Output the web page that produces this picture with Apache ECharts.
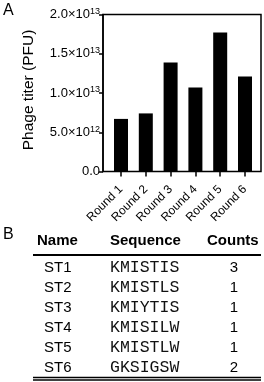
<!DOCTYPE html>
<html><head><meta charset="utf-8">
<script src="https://cdn.jsdelivr.net/npm/echarts@6/dist/echarts.min.js"></script>
<style>html,body{margin:0;padding:0;background:#fff}#c{width:264px;height:382px}</style>
</head><body><div id="c"></div>
<script>
// ---- data ----
const categories = ['Round 1', 'Round 2', 'Round 3', 'Round 4', 'Round 5', 'Round 6'];
const titers = [6.7e12, 7.4e12, 1.39e13, 1.07e13, 1.77e13, 1.21e13];
const yTicks = [0, 5e12, 1e13, 1.5e13, 2e13];
const yTickMantissa = ['0.0', '5.0×10', '1.0×10', '1.5×10', '2.0×10'];
const yTickExponent = ['', '12', '13', '13', '13'];
const yTitle = 'Phage titer (PFU)';
const tableHeaders = ['Name', 'Sequence', 'Counts'];
const names = ['ST1', 'ST2', 'ST3', 'ST4', 'ST5', 'ST6'];
const sequences = ['KMISTIS', 'KMISTLS', 'KMIYTIS', 'KMISILW', 'KMISTLW', 'GKSIGSW'];
const counts = [3, 1, 1, 1, 1, 2];

const SANS = 'Liberation Sans, Arial, sans-serif';
const MONO = 'Liberation Mono, Courier New, monospace';
const INK = '#000';

const chart = echarts.init(document.getElementById('c'), null, {renderer: 'canvas'});

const graphics = [];
graphics.push({type: 'text', x: 3, y: 3, style: {text: 'A', fontSize: 16, fontFamily: SANS, fill: INK}});
graphics.push({type: 'text', x: 3, y: 227, style: {text: 'B', fontSize: 16, fontFamily: SANS, fill: INK}});
graphics.push({type: 'text', x: 29, y: 90, rotation: Math.PI / 2,
  style: {text: yTitle, fontSize: 15.5, fontFamily: SANS, fill: INK, align: 'center', verticalAlign: 'middle'}});

// table header
const headX = [37, 110, 207];
tableHeaders.forEach((h, i) => {
  graphics.push({type: 'text', x: headX[i], y: 241,
    style: {text: h, fontSize: 15, fontWeight: 'bold', fontFamily: SANS, fill: INK, align: 'left', verticalAlign: 'middle'}});
});
graphics.push({type: 'line', shape: {x1: 33, y1: 255, x2: 261, y2: 255}, style: {stroke: INK, lineWidth: 2}});
names.forEach((n, i) => {
  const y = 268 + i * 20;
  graphics.push({type: 'text', x: 44, y: y,
    style: {text: n, fontSize: 15, fontFamily: SANS, fill: INK, align: 'left', verticalAlign: 'middle'}});
  graphics.push({type: 'text', x: 110, y: y,
    style: {text: sequences[i], fontSize: 16.5, fontFamily: MONO, fill: '#111', align: 'left', verticalAlign: 'middle'}});
  graphics.push({type: 'text', x: 234, y: y,
    style: {text: String(counts[i]), fontSize: 15, fontFamily: SANS, fill: INK, align: 'center', verticalAlign: 'middle'}});
});
graphics.push({type: 'line', shape: {x1: 33, y1: 377.5, x2: 261, y2: 377.5}, style: {stroke: INK, lineWidth: 1.3}});
graphics.push({type: 'line', shape: {x1: 33, y1: 380, x2: 261, y2: 380}, style: {stroke: INK, lineWidth: 1.3}});

const option = {
  animation: false,
  backgroundColor: '#fff',
  grid: [
    {left: 103, top: 14.5, width: 158, height: 157, show: true, borderColor: INK, borderWidth: 1.5, backgroundColor: 'transparent'},
    {left: 108.6, top: 14.5, width: 148.8, height: 157}
  ],
  xAxis: [
    {gridIndex: 0, type: 'value', show: false, min: 0, max: 1},
    {gridIndex: 1, type: 'category', data: categories,
      axisLine: {show: false},
      axisTick: {show: true, alignWithLabel: true, length: 5, lineStyle: {color: INK, width: 1.5}},
      axisLabel: {rotate: 45, interval: 0, fontSize: 12, fontFamily: SANS, color: INK, margin: 16}}
  ],
  yAxis: [
    {gridIndex: 0, type: 'value', min: 0, max: 2e13, interval: 5e12,
      axisLine: {show: true, lineStyle: {color: INK, width: 1.5}},
      axisTick: {show: true, length: 4, lineStyle: {color: INK, width: 1.5}},
      splitLine: {show: false},
      axisLabel: {
        margin: 3,
        fontSize: 13,
        fontFamily: SANS,
        color: INK,
        formatter: function (v) {
          let idx = yTicks.findIndex(t => Math.abs(t - v) < 1);
          if (idx < 0) return '';
          return yTickExponent[idx] ? '{m|' + yTickMantissa[idx] + '}{e|' + yTickExponent[idx] + '}' : '{m|' + yTickMantissa[idx] + '}';
        },
        rich: {
          m: {fontSize: 13, fontFamily: SANS, color: INK, lineHeight: 15},
          e: {fontSize: 9, fontFamily: SANS, color: INK, verticalAlign: 'top', lineHeight: 10}
        }
      }},
    {gridIndex: 1, type: 'value', min: 0, max: 2e13, show: false}
  ],
  series: [{type: 'bar', xAxisIndex: 1, yAxisIndex: 1, data: titers, barWidth: 14, itemStyle: {color: INK}}],
  graphic: graphics
};
chart.setOption(option);
</script></body></html>
